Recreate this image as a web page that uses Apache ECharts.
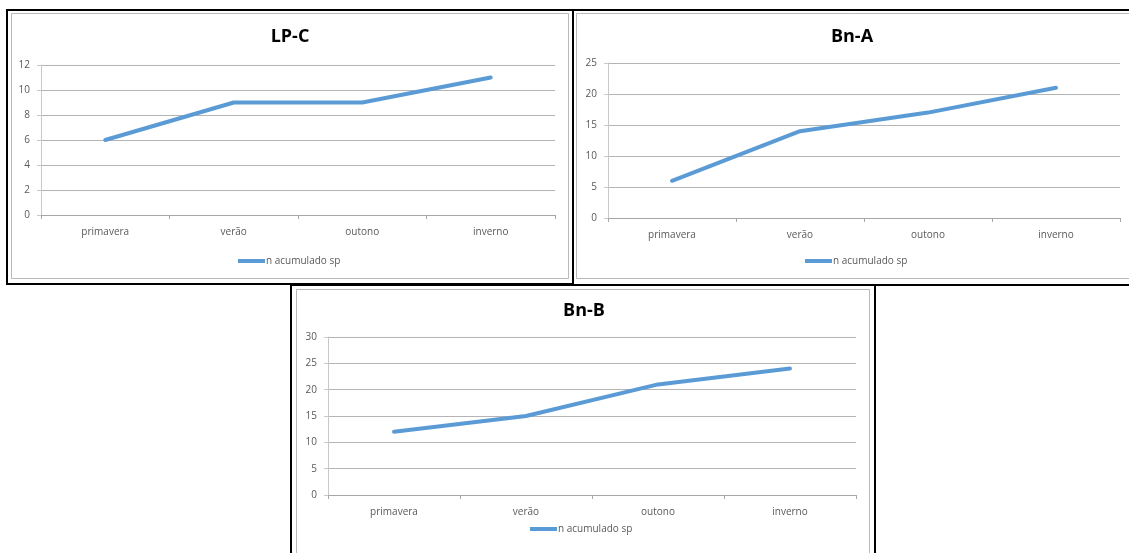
<!DOCTYPE html>
<html>
<head>
<meta charset="utf-8">
<script src="https://cdn.jsdelivr.net/npm/echarts@6/dist/echarts.min.js"></script>
<style>
  html, body { margin: 0; padding: 0; background: #fff; }
  #chart { width: 1129px; height: 553px; }
</style>
</head>
<body>
<div id="chart"></div>
<script>
// Seasons on the category axis
const seasons = ['primavera', 'verão', 'outono', 'inverno'];
const seriesName = 'n acumulado sp';

// Accumulated species count per site
const titles = ['LP-C', 'Bn-A', 'Bn-B'];
const valuesLPC = [6, 9, 9, 11];
const valuesBnA = [6, 14, 17, 21];
const valuesBnB = [12, 15, 21, 24];

// Value-axis ranges per panel
const yMax = [12, 25, 30];
const yStep = [2, 5, 5];

const FONT = '"Open Sans", "Noto Sans", sans-serif';
const LINE_BLUE = '#5b9bd5';
const LABEL = '#595959';

// Panel layout: plot area + frame boxes
const panels = [
  { grid: { left: 41, top: 65, width: 514, height: 150 }, center: 290, titleTop: 28, legendLeft: 238, legendTop: 256,
    frame: { x: 7, y: 10, w: 566, h: 274 }, inner: { x: 11, y: 13, w: 557, h: 265 }, values: valuesLPC },
  { grid: { left: 608, top: 63, width: 512, height: 155 }, center: 852, titleTop: 28, legendLeft: 805, legendTop: 256,
    frame: { x: 573, y: 10, w: 570, h: 275 }, inner: { x: 576, y: 13, w: 560, h: 265 }, values: valuesBnA },
  { grid: { left: 328, top: 337, width: 528, height: 158 }, center: 584, titleTop: 302, legendLeft: 530, legendTop: 524,
    frame: { x: 291, y: 285, w: 584, h: 280 }, inner: { x: 296, y: 289, w: 573, h: 280 }, values: valuesBnB }
];

const chart = echarts.init(document.getElementById('chart'), null, { renderer: 'canvas' });

const option = {
  backgroundColor: '#ffffff',
  animation: false,
  title: panels.map((p, i) => ({
    text: titles[i],
    left: p.center,
    top: p.titleTop,
    textAlign: 'center',
    padding: 0,
    textStyle: { fontFamily: FONT, fontWeight: 'bold', fontSize: 18, color: '#000' }
  })),
  legend: panels.map(p => ({
    data: [seriesName],
    left: p.legendLeft,
    top: p.legendTop,
    padding: 0,
    icon: 'rect',
    itemWidth: 27,
    itemHeight: 4,
    textStyle: { fontFamily: FONT, fontSize: 10, color: LABEL, padding: [0, 0, 0, -4] }
  })),
  grid: panels.map(p => Object.assign({ containLabel: false }, p.grid)),
  xAxis: panels.map((p, i) => ({
    type: 'category',
    gridIndex: i,
    data: seasons,
    boundaryGap: true,
    axisLine: { lineStyle: { color: '#a6a6a6', width: 1 } },
    axisTick: { show: true, length: 4, lineStyle: { color: '#a6a6a6' } },
    axisLabel: { fontFamily: FONT, fontSize: 10, color: LABEL, margin: 12 }
  })),
  yAxis: panels.map((p, i) => ({
    type: 'value',
    gridIndex: i,
    min: 0,
    max: yMax[i],
    interval: yStep[i],
    axisLine: { show: true, lineStyle: { color: '#c8c8c8', width: 1 } },
    axisTick: { show: true, length: 4, lineStyle: { color: '#c8c8c8' } },
    axisLabel: { fontFamily: FONT, fontSize: 10, color: LABEL, margin: 11 },
    splitLine: { show: true, lineStyle: { color: '#b4b4b4', width: 1 } }
  })),
  series: panels.map((p, i) => ({
    name: seriesName,
    type: 'line',
    xAxisIndex: i,
    yAxisIndex: i,
    data: p.values,
    symbol: 'none',
    lineStyle: { color: LINE_BLUE, width: 4, cap: 'round', join: 'round' },
    itemStyle: { color: LINE_BLUE }
  })),
  graphic: panels.flatMap(p => [
    { type: 'rect', silent: true, z: 100,
      shape: { x: p.inner.x + 0.5, y: p.inner.y + 0.5, width: p.inner.w, height: p.inner.h },
      style: { fill: 'none', stroke: '#b8b8b8', lineWidth: 1 } },
    { type: 'rect', silent: true, z: 101,
      shape: { x: p.frame.x, y: p.frame.y, width: p.frame.w, height: p.frame.h },
      style: { fill: 'none', stroke: '#000', lineWidth: 2 } }
  ])
};

chart.setOption(option);
</script>
</body>
</html>
